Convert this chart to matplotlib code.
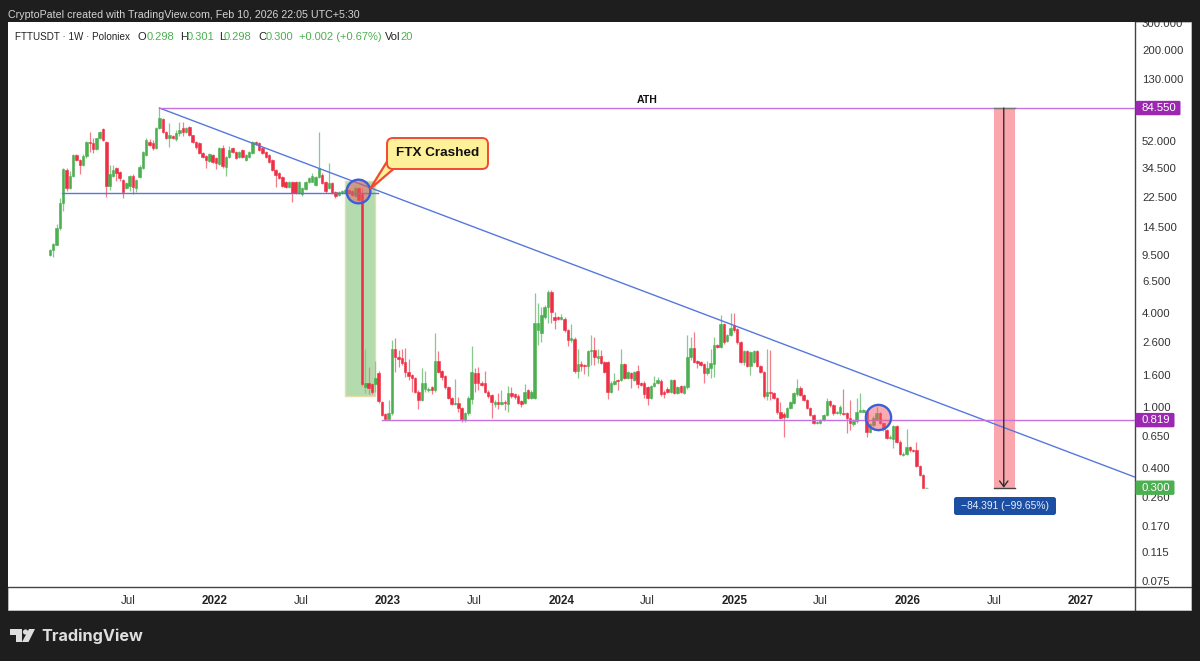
import datetime as dt
import matplotlib
matplotlib.use("Agg")
import matplotlib.pyplot as plt
import matplotlib.dates as mdates
from matplotlib.patches import FancyBboxPatch, Polygon, Rectangle, Circle
from matplotlib.lines import Line2D
from matplotlib.transforms import Affine2D, IdentityTransform

plt.rcParams['font.family'] = ['Liberation Sans', 'DejaVu Sans']

first_week = dt.date(2021, 1, 18)

opens = [
    9.54,10.3,11.1,14.2,20.6,33.7,25.7,30.9,42.1,39.1,
    36.3,41.5,51,50.2,46,54,62,51,26.6,30.9,
    34.6,32.7,29,25.7,26.6,30.9,25.7,30.4,34.6,42,
    51,50.2,46.6,62.8,71.8,59.2,54.1,55.8,53.3,58,
    62.8,59.2,63.7,56.6,51,50.2,43.2,41.5,38.5,42.1,
    40.2,36.8,46.6,35.2,40.7,46.6,44,40.7,45.3,39.1,
    40.7,43.2,51,50.2,46.6,44,42.1,39.1,33.7,32.2,
    30.4,28,26.2,28,28,24,23.5,25.4,28,28.3,
    27,30.4,31.3,28.2,25.7,27.8,24.3,23.2,24,24,
    25,24.6,22.9,25.7,23.6,1.33,1.42,1.40,1.40,1.65,
    1.07,.895,.83,.91,2.35,2.1,2.05,1.93,1.67,1.6,
    1.53,1.25,1.10,1.30,1.28,1.33,1.28,1.97,1.69,1.57,
    1.33,1.14,1.04,1.06,.98,.819,.91,1.12,1.65,1.65,
    1.43,1.42,1.25,1.19,1.04,1.07,1.04,1.07,1.04,1.22,
    1.2,1.17,1.08,1.06,1.28,1.14,1.14,3.12,2.98,3.78,
    4.4,5.5,3.8,3.78,3.66,3.7,3.12,2.69,2.73,1.69,
    1.88,1.85,1.82,2.28,2.32,2.05,2.12,1.93,1.93,1.25,
    1.40,1.48,1.48,1.88,1.53,1.65,1.48,1.69,1.42,1.43,
    1.33,1.14,1.35,1.43,1.46,1.25,1.3,1.25,1.48,1.22,
    1.35,1.22,1.33,2.08,2.38,1.97,1.93,1.88,1.65,1.77,
    1.88,2.5,2.43,3.41,2.65,2.9,3.36,3.17,2.6,1.93,
    2.28,1.82,1.93,2.28,1.82,1.67,1.17,1.25,1.22,1.14,
    .92,.9,.86,.98,1.06,1.2,1.32,1.19,1.1,.98,
    .882,.785,.785,.819,.882,1.08,1.02,.91,.91,.91,
    .91,.84,.77,.805,.93,.93,.93,.69,.76,.83,
    .91,.785,.706,.63,.62,.745,.595,.487,.495,.55,
    .524,.524,.415,.362,.298,
]
closes = [
    10.3,11.2,14.2,20.6,34.2,25.7,30.9,42.1,39.1,36.3,
    41.5,51,50.2,46,54,59.2,52.6,26.6,31.8,33.7,
    32.2,29.8,24.3,27.8,30.9,26.2,29,35.2,44,52.6,
    48.8,46.6,62.8,72.9,59.2,54.1,56.6,54.1,58.3,61,
    59.2,62.8,56.6,51,47.3,43.2,40.9,39.1,42.7,38,
    37.4,46.6,35.8,40.7,45.3,44,40.2,44,40.7,42.1,
    44,51,49.5,45.3,43.2,40.7,38,33.7,31.3,29.8,
    26.6,26.2,28,24,24,28,25.7,28,29.8,30.9,
    30.4,34.6,27.8,24.6,27.8,24,22.9,24.3,24.6,25,
    24,23.2,25.7,21.6,1.40,1.42,1.32,1.25,1.53,1.08,
    .882,.83,.91,2.35,2.1,2.03,1.9,1.67,1.57,1.53,
    1.25,1.10,1.43,1.43,1.30,1.28,1.97,1.67,1.55,1.33,
    1.14,1.04,1.06,.98,.83,.91,1.14,1.67,1.43,1.43,
    1.38,1.25,1.17,1.07,1.07,1.04,1.07,1.06,1.22,1.17,
    1.15,1.06,1.04,1.25,1.14,1.25,3.45,3.45,3.9,4.4,
    5.5,4.1,3.62,3.66,3.78,3.12,2.69,2.77,1.69,1.88,
    1.82,1.82,2.28,2.32,2.08,2.12,1.9,1.67,1.25,1.42,
    1.46,1.46,1.88,1.53,1.67,1.53,1.67,1.40,1.38,1.2,
    1.14,1.35,1.43,1.48,1.2,1.2,1.25,1.48,1.22,1.33,
    1.25,1.35,2.08,2.38,1.93,1.9,1.85,1.65,1.77,1.9,
    2.5,2.43,3.41,2.6,2.9,3.22,3.12,2.6,1.93,2.28,
    1.82,2.25,2.28,1.82,1.67,1.17,1.25,1.22,1.14,.92,
    .85,.86,.98,1.07,1.22,1.32,1.19,1.1,.98,.882,
    .785,.795,.819,.882,1.08,1.02,.91,.92,1.0,.895,
    .84,.785,.805,.93,.95,.95,.69,.77,.84,.91,
    .785,.72,.63,.64,.745,.595,.495,.495,.55,.524,
    .516,.415,.362,.30,.30,
]
highs = [
    10.4,11.3,15.2,22.2,34.6,34.6,33,42.7,42.7,39.7,
    42.5,51.8,59.2,54.1,54.5,60,63,52,36.3,36.3,
    35,33,29.5,28.2,31.3,31.8,29.5,36,44.5,54,
    53.4,52.6,63.5,84.55,72.9,60,67.7,57,61,68.7,
    68.7,63.5,64.7,57,52,50.9,44,42,43.5,42.7,
    40.8,47.3,48.8,41.3,48.1,47.3,44.5,44.7,46,42.7,
    44.7,51.8,52,50.9,47.3,44.5,42.7,39.7,34.2,32.7,
    31,28.4,28.4,28.4,28.4,28.4,26.2,28.4,30.4,32.2,
    31,59.2,32,28.6,37.5,28.2,24.6,24.6,25,25.4,
    25.4,25,26.6,26,25.7,2.35,1.79,1.42,1.97,1.69,
    1.09,.91,1.10,2.69,2.77,2.32,2.35,2.38,2.03,1.63,
    1.55,1.28,1.77,1.69,1.33,1.35,2.97,2.28,1.72,1.6,
    1.35,1.16,1.50,1.16,1.0,.93,1.17,2.46,1.77,1.79,
    1.46,1.69,1.28,1.2,1.1,1.22,1.28,1.1,1.35,1.33,
    1.22,1.2,1.1,1.4,1.3,1.28,5.45,4.7,4.4,4.5,
    5.65,5.65,4.1,3.85,3.95,3.78,3.17,3.4,2.8,2.35,
    1.97,1.88,2.32,2.9,2.8,2.35,2.32,1.97,1.97,1.46,
    1.65,1.5,2.35,1.92,1.7,1.67,1.7,1.85,1.45,1.46,
    1.35,1.38,1.57,1.55,1.5,1.28,1.33,1.5,1.5,1.35,
    1.38,1.38,2.9,2.83,3.05,2.0,1.97,1.9,1.97,2.35,
    2.83,2.55,3.9,3.45,2.95,4.0,4.0,3.2,2.65,2.32,
    2.32,2.3,2.32,2.32,1.85,1.7,2.35,2.32,1.25,1.16,
    1.07,.92,1.0,1.09,1.25,1.5,1.35,1.2,1.12,1.0,
    .9,.81,.83,.9,1.14,1.1,1.04,.94,1.02,1.3,
    .93,1.1,.83,1.14,1.22,.97,.95,.79,.87,1.0,
    .93,.8,.72,.66,.76,.76,.605,.51,.72,.56,
    .53,.595,.42,.37,.301,
]
lows = [
    9.4,9.2,11.0,13.8,18.4,24.6,25.3,30.5,38.5,31.8,
    35.8,40.2,43.7,43.2,45.5,53.5,52,22.7,25,30.4,
    28.6,28.6,22.2,25.3,24.6,23.5,24.3,30,34,41.5,
    48,45.3,46,62,58.5,53,47.3,53,52,56,
    55.8,58.5,56,50.2,46,42.5,40,34.6,38,37.5,
    34.2,36.3,34.6,30.9,40,43.2,39.6,40,40,38.5,
    40,42.5,49,44.7,42.5,40,37.4,33.2,26.2,29.4,
    26.2,25.8,25.8,21,23.6,23.6,23,25,27.6,28,
    26.6,30,27.4,24,25.4,23.6,22.2,23,23.6,23.6,
    23.6,22.9,22.5,21.2,1.35,1.22,1.2,1.2,1.25,1.06,
    .87,.819,.819,.89,1.67,1.79,1.87,1.55,1.48,1.25,
    1.22,.96,1.08,1.25,1.25,1.2,1.25,1.65,1.48,1.3,
    1.12,1.02,1.02,.93,.80,.80,.89,1.04,1.25,1.28,
    1.35,1.22,1.14,.85,1.0,.96,1.02,.95,.92,1.14,
    1.12,1.04,1.0,1.04,1.12,1.12,1.12,2.5,2.6,3.7,
    3.45,3.45,3.15,3.6,3.6,3.05,2.46,2.6,1.65,1.53,
    1.69,1.62,1.57,1.85,1.85,1.9,1.88,1.65,1.12,1.22,
    1.38,1.28,1.46,1.5,1.5,1.32,1.46,1.32,1.35,1.14,
    1.02,1.12,1.33,1.4,1.18,1.14,1.22,1.22,1.2,1.2,
    1.22,1.2,1.3,2.0,1.9,1.77,1.82,1.43,1.6,1.53,
    1.55,2.4,2.38,2.55,2.6,2.85,3.05,2.55,1.9,1.85,
    1.8,1.6,1.9,1.8,1.65,1.14,1.1,1.1,1.12,.9,
    .83,.64,.84,.96,1.04,1.17,1.17,1.08,.96,.87,
    .775,.77,.775,.81,.87,1.0,.89,.9,.89,.88,
    .68,.706,.75,.79,.92,.92,.64,.68,.74,.82,
    .77,.7,.62,.62,.54,.585,.49,.48,.49,.51,
    .51,.41,.355,.298,.298,
]
assert len(opens) == len(closes) == len(highs) == len(lows) == 265

y_ticks = [300, 200, 130, 52, 34.5, 22.5, 14.5, 9.5, 6.5, 4, 2.6, 1.6, 1,
           .65, .4, .26, .17, .115, .075]
x_tick_labels = ['Jul', '2022', 'Jul', '2023', 'Jul', '2024', 'Jul', '2025', 'Jul', '2026', 'Jul', '2027']
x_tick_dates = [dt.date(2021, 7, 3), dt.date(2022, 1, 1), dt.date(2022, 7, 1), dt.date(2023, 1, 1),
                dt.date(2023, 7, 1), dt.date(2024, 1, 1), dt.date(2024, 7, 1), dt.date(2025, 1, 1),
                dt.date(2025, 7, 1), dt.date(2026, 1, 1), dt.date(2026, 7, 1), dt.date(2027, 1, 1)]

ath_price = 84.55
support_price = 0.819
last_price = 0.300
range_text = '\u221284.391 (\u221299.65%)'

GREEN = '#4caf50'
RED = '#ee2f45'
BLUE = '#5578de'
PURPLE = '#c672de'
TXT = '#333333'
W, H = 1200, 661

fig = plt.figure(figsize=(W / 100, H / 100), dpi=100, facecolor='#1e1e1e')
px = Affine2D().scale(1, -1).translate(0, H)   # pixel frame for chrome only

fig.add_artist(Rectangle((8, 22), 1183, 588, transform=px, fc='white', ec='#cfcfcf', lw=0.5, zorder=-5))

L, R, T, B = 8, 1135, 22, 587
ax = fig.add_axes([L / W, 1 - B / H, (R - L) / W, (B - T) / H], facecolor='white', zorder=1)
ax.set_yscale('log')
base = mdates.date2num(dt.date(2022, 1, 1))
ax.set_xlim(base - 436.4, base + 1939.7)
ax.set_ylim(0.0686, 303.6)

dates = [mdates.date2num(first_week + dt.timedelta(days=7 * i)) for i in range(len(opens))]
up = [c >= o for o, c in zip(opens, closes)]
body_colors = [GREEN if u else RED for u in up]
wick_colors = ['#86c98b' if u else '#f47c89' for u in up]

num = mdates.date2num
# position tools behind the candles
ax.fill_between([num(dt.date(2022, 10, 2)), num(dt.date(2022, 12, 5))], 1.17, 28.6,
                fc='#b4dbae', ec='#e6dca6', lw=1, zorder=1)
ax.fill_between([num(dt.date(2026, 7, 1)), num(dt.date(2026, 8, 14))], last_price, ath_price,
                fc='#fba6ad', ec='none', zorder=1)

ax.vlines(dates, lows, highs, colors=wick_colors, lw=0.9, zorder=3)
ax.bar(dates, [abs(c - o) for o, c in zip(opens, closes)],
       bottom=[min(o, c) for o, c in zip(opens, closes)], width=5.2,
       color=body_colors, edgecolor=body_colors, lw=0.4, zorder=4)

# drawings
trend_x = [num(dt.date(2021, 9, 6)), base + 1939.7]
ax.plot(trend_x, [ath_price, 0.351], color=BLUE, lw=1.0, zorder=5)
ax.plot([num(dt.date(2021, 2, 12)), num(dt.date(2022, 12, 10))], [23.9, 23.9], color=BLUE, lw=1.0, zorder=5)
ax.plot([num(dt.date(2021, 9, 6)), base + 1939.7], [ath_price, ath_price], color=PURPLE, lw=1.0, zorder=5)
ax.plot([num(dt.date(2022, 12, 19)), base + 1939.7], [support_price, support_price], color=PURPLE, lw=1.0, zorder=5)
ax.plot([num(dt.date(2026, 7, 1)), num(dt.date(2026, 8, 14))], [last_price, last_price], color='#444444', lw=1.0, zorder=6)
ax.plot([num(dt.date(2026, 7, 1)), num(dt.date(2026, 8, 14))], [ath_price, ath_price], color='#777777', lw=1.0, zorder=6)
ax.annotate('', xy=(num(dt.date(2026, 7, 22)), last_price), xytext=(num(dt.date(2026, 7, 22)), ath_price),
            arrowprops=dict(arrowstyle='->,head_width=0.3,head_length=0.4', color='#2f2f2f', lw=1.0,
                            shrinkA=0, shrinkB=0), zorder=7)
ax.text(num(dt.date(2024, 7, 1)), 95.5, 'ATH', ha='center', va='center', fontsize=7.6, fontweight='bold', color='#111111', zorder=7)
ax.scatter([num(dt.date(2022, 10, 29))], [24.6], s=290, fc=(0.93, 0.35, 0.35, 0.5), ec='#3a5fd6', lw=1.7, zorder=8)
ax.scatter([num(dt.date(2025, 10, 30))], [0.852], s=330, fc=(0.95, 0.35, 0.40, 0.5), ec='#3a5fd6', lw=1.7, zorder=8)

# axes chrome
for s in ['top', 'left']:
    ax.spines[s].set_visible(False)
for s in ['right', 'bottom']:
    ax.spines[s].set_color('#444444')
    ax.spines[s].set_linewidth(1)
ax.yaxis.tick_right()
ax.yaxis.set_minor_locator(matplotlib.ticker.NullLocator())
ax.set_yticks(y_ticks)
ax.set_yticklabels([f'{v:.3f}' for v in y_ticks], fontsize=8.2, color=TXT)
ax.tick_params(axis='y', length=0, pad=5)
ax.set_xticks([num(d) for d in x_tick_dates])
ax.set_xticklabels(x_tick_labels, fontsize=8.4, color=TXT)
for lab, txt in zip(ax.get_xticklabels(), x_tick_labels):
    if txt != 'Jul':
        lab.set_fontweight('bold')
        lab.set_color('#222222')
ax.tick_params(axis='x', length=0, pad=6)
ax.xaxis.set_minor_locator(matplotlib.ticker.NullLocator())
fig.add_artist(Line2D([R, R], [B, 610], transform=px, color='#444444', lw=1, zorder=6))
fig.add_artist(Line2D([R, 1191], [B, B], transform=px, color='#444444', lw=1, zorder=6))
# top edge of the panel cuts the highest price label
fig.add_artist(Rectangle((1136, 12), 60, 10, transform=px, fc='#1e1e1e', ec='none', zorder=6))

# header
fig.text(8, 15, 'CryptoPatel created with TradingView.com, Feb 10, 2026 22:05 UTC+5:30', transform=px,
         fontsize=7.65, color='#d4d4d4', va='center', zorder=9)
LG = '#4caf50'
DK = '#222222'
for x, s, c, fs in [(15, 'FTTUSDT \u00b7 1W \u00b7 Poloniex', DK, 7.1), (138, 'O', DK, 8), (147, '0.298', LG, 8),
                    (180, 'H', DK, 8), (187, '0.301', LG, 8), (219, 'L', DK, 8), (224, '0.298', LG, 8),
                    (258, 'C', DK, 8), (266, '0.300', LG, 8), (299, '+0.002 (+0.67%)', LG, 8),
                    (385, 'Vol', DK, 8), (400, '20', LG, 8)]:
    fig.text(x, 37, s, transform=px, fontsize=fs, color=c, va='center', zorder=9)

# price tags, tied to the price scale
def price_y(p):
    return ax.transData.transform((ax.get_xlim()[0], p))[1]

for p, lab, col, w in [(ath_price, '84.550', '#9c27b0', 46), (support_price, '0.819', '#9c27b0', 40),
                       (last_price, '0.300', '#4caf50', 40)]:
    y = price_y(p)
    fig.add_artist(FancyBboxPatch((R + 0.5, y - 7.2), w - 1, 14.4, boxstyle='round,pad=0,rounding_size=1.5',
                                  transform=IdentityTransform(), fc=col, ec='none', zorder=10))
    fig.text(R + 7, y, lab, transform=IdentityTransform(), fontsize=8.2, color='white', va='center', zorder=11)

# range label
fig.add_artist(FancyBboxPatch((954, 497), 102, 18, boxstyle='round,pad=0,rounding_size=2.5', transform=px,
                              fc='#1c4fa3', ec='none', zorder=10))
fig.text(1005, 506, range_text, transform=px, fontsize=7.4, color='#e8eefc', ha='center', va='center', zorder=11)

# FTX callout
YEL = '#fff09a'
ORG = '#f04a32'
fig.add_artist(Polygon([(388, 160), (370, 189), (394, 168.5)], closed=True, transform=px, fc=YEL, ec=ORG, lw=1.6, zorder=10))
fig.add_artist(FancyBboxPatch((387, 138), 101, 31, boxstyle='round,pad=0,rounding_size=6', transform=px,
                              fc=YEL, ec=ORG, lw=1.4, zorder=10))
fig.add_artist(Polygon([(389.5, 157), (388, 164), (395, 167.6), (400, 165)], closed=True, transform=px, fc=YEL, ec='none', zorder=11))
fig.text(437.5, 153.5, 'FTX Crashed', transform=px, fontsize=9.7, fontweight='bold', color='#111111',
         ha='center', va='center', zorder=12)

# TradingView mark
LOGO = '#dedede'
fig.add_artist(Polygon([(10, 629), (22, 629), (22, 642), (16, 642), (16, 634.5), (10, 634.5)], closed=True,
                       transform=px, fc=LOGO, ec='none', zorder=5))
fig.add_artist(Circle((25.5, 632), 2.6, transform=px, fc=LOGO, ec='none', zorder=5))
fig.add_artist(Polygon([(29, 629), (35, 629), (28.5, 642), (22, 642)], closed=True, transform=px, fc=LOGO, ec='none', zorder=5))
fig.text(41.5, 636, 'TradingView', transform=px, fontsize=11.7, fontweight='bold', color=LOGO, va='center',
         family=['Inter', 'Liberation Sans'])

fig.savefig('out.png', dpi=100, facecolor=fig.get_facecolor())
